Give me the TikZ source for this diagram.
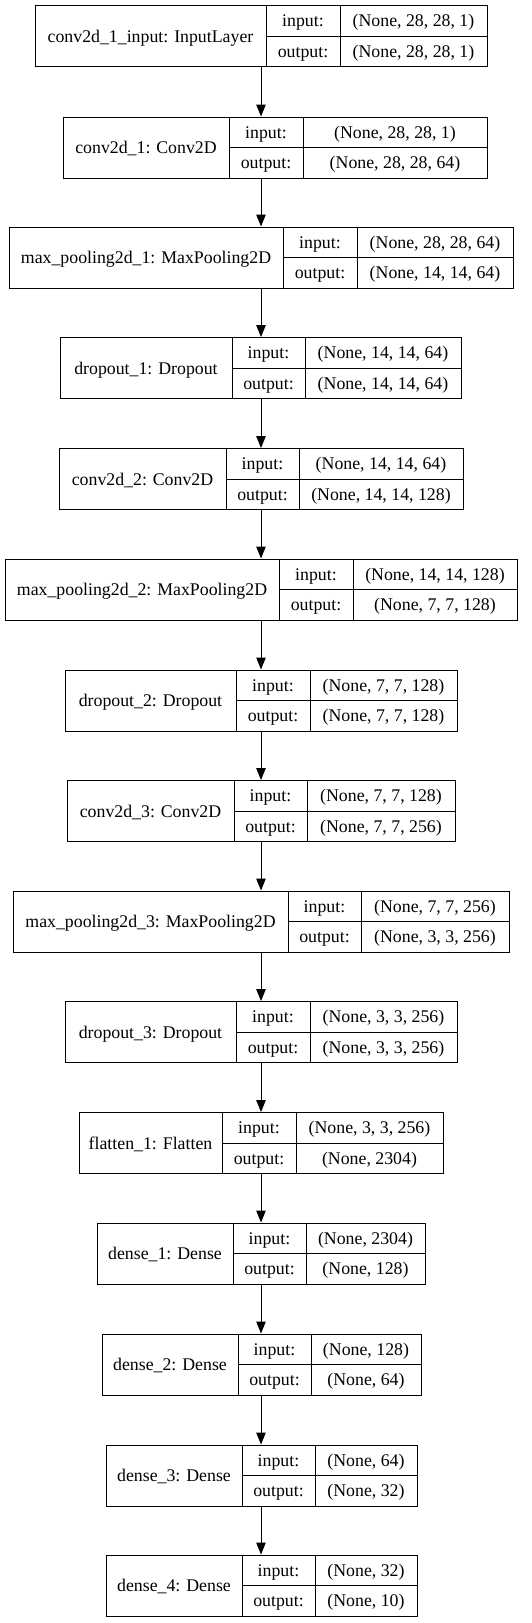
\documentclass[tikz,border=0pt]{standalone}
\usepackage{fontspec}
\setmainfont{Liberation Serif}
\usetikzlibrary{arrows.meta}
\tikzset{
  boxline/.style={draw=black, line width=1pt},
  cell/.style={inner sep=0pt, text height=14pt, text depth=2pt, font=\fontsize{17.8pt}{20pt}\selectfont},
  flow/.style={draw=black, line width=1pt, -{Triangle[length=12pt,width=9.5pt]}},
}
% #1 name, #2 left, #3 d1, #4 d2, #5 right, #6 top, #7 label, #8 input, #9 output
\newcommand{\layerbox}[9]{%
  \pgfmathsetmacro{\lbW}{#5-#2}%
  \pgfmathsetmacro{\lbCX}{(#2+#5)/2}%
  \pgfmathsetmacro{\lbCY}{#6+30.5}%
  \pgfmathsetmacro{\lbB}{#6+61}%
  \pgfmathsetmacro{\lbTA}{#6+15.25}%
  \pgfmathsetmacro{\lbTB}{#6+45.75}%
  \pgfmathsetmacro{\lbXa}{(#2+#3)/2}%
  \pgfmathsetmacro{\lbXb}{(#3+#4)/2}%
  \pgfmathsetmacro{\lbXc}{(#4+#5)/2}%
  \node[boxline, rectangle, inner sep=0pt, minimum width=\lbW pt, minimum height=61pt] (#1) at (\lbCX,\lbCY) {};
  \draw[boxline] (#3,#6) -- (#3,\lbB);
  \draw[boxline] (#4,#6) -- (#4,\lbB);
  \draw[boxline] (#3,\lbCY) -- (#5,\lbCY);
  \node[cell] (#1-name) at (\lbXa,\lbCY) {#7};
  \node[cell] (#1-inl) at (\lbXb,\lbTA) {input:};
  \node[cell] (#1-inv) at (\lbXc,\lbTA) {#8};
  \node[cell] (#1-outl) at (\lbXb,\lbTB) {output:};
  \node[cell] (#1-outv) at (\lbXc,\lbTB) {#9};
}
\begin{document}
\begin{tikzpicture}[x=1pt,y=-1pt]
\useasboundingbox (0,0) rectangle (531,1623);
\coordinate (spine) at (261,0);
\layerbox{L1}{35}{266}{340}{487}{5.5}{conv2d\_1\_input: InputLayer}{(None, 28, 28, 1)}{(None, 28, 28, 1)}
\layerbox{L2}{63}{229}{303}{487}{117}{conv2d\_1: Conv2D}{(None, 28, 28, 1)}{(None, 28, 28, 64)}
\layerbox{L3}{9}{283}{357}{513}{227}{max\_pooling2d\_1: MaxPooling2D}{(None, 28, 28, 64)}{(None, 14, 14, 64)}
\layerbox{L4}{60}{232}{305}{461}{337.5}{dropout\_1: Dropout}{(None, 14, 14, 64)}{(None, 14, 14, 64)}
\layerbox{L5}{59}{226}{299}{463}{448.5}{conv2d\_2: Conv2D}{(None, 14, 14, 64)}{(None, 14, 14, 128)}
\layerbox{L6}{5}{279}{353}{517}{559}{max\_pooling2d\_2: MaxPooling2D}{(None, 14, 14, 128)}{(None, 7, 7, 128)}
\layerbox{L7}{65}{236}{310}{457}{670}{dropout\_2: Dropout}{(None, 7, 7, 128)}{(None, 7, 7, 128)}
\layerbox{L8}{67}{234}{307}{455}{780.5}{conv2d\_3: Conv2D}{(None, 7, 7, 128)}{(None, 7, 7, 256)}
\layerbox{L9}{13}{288}{361}{509}{891}{max\_pooling2d\_3: MaxPooling2D}{(None, 7, 7, 256)}{(None, 3, 3, 256)}
\layerbox{L10}{65}{236}{310}{457}{1001.5}{dropout\_3: Dropout}{(None, 3, 3, 256)}{(None, 3, 3, 256)}
\layerbox{L11}{79}{222}{296}{443}{1112.5}{flatten\_1: Flatten}{(None, 3, 3, 256)}{(None, 2304)}
\layerbox{L12}{97}{233}{306}{425}{1223}{dense\_1: Dense}{(None, 2304)}{(None, 128)}
\layerbox{L13}{102}{238}{311}{421}{1334}{dense\_2: Dense}{(None, 128)}{(None, 64)}
\layerbox{L14}{106}{242}{315}{417}{1445}{dense\_3: Dense}{(None, 64)}{(None, 32)}
\layerbox{L15}{106}{242}{315}{417}{1555}{dense\_4: Dense}{(None, 32)}{(None, 10)}
\foreach \a/\b in {L1/L2,L2/L3,L3/L4,L4/L5,L5/L6,L6/L7,L7/L8,L8/L9,L9/L10,L10/L11,L11/L12,L12/L13,L13/L14,L14/L15}
  \draw[flow] (\a.south -| spine) -- (\b.north -| spine);
\end{tikzpicture}
\end{document}
